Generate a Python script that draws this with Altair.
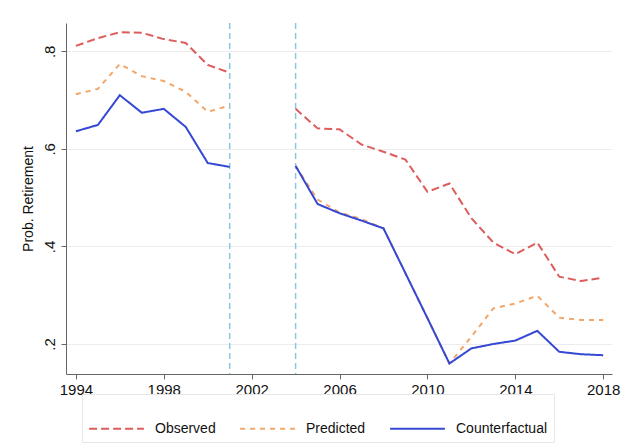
import altair as alt
import pandas as pd

# Retirement probability by year, three series; 2002-2003 are not observed
years = list(range(1994, 2019))
observed = [0.811, 0.827, 0.839, 0.838, 0.825, 0.817, 0.772, 0.756, None, None,
            0.682, 0.642, 0.640, 0.609, 0.594, 0.578, 0.512, 0.529, 0.458, 0.408,
            0.384, 0.408, 0.338, 0.329, 0.336]
predicted = [0.712, 0.723, 0.774, 0.749, 0.739, 0.717, 0.676, 0.689, None, None,
             0.565, 0.496, 0.470, 0.456, 0.437, 0.345, 0.253, 0.160, 0.215, 0.273,
             0.283, 0.299, 0.254, 0.249, 0.249]
counterfactual = [0.636, 0.649, 0.710, 0.674, 0.682, 0.645, 0.571, 0.563, None, None,
                  0.565, 0.487, 0.468, 0.453, 0.437, 0.345, 0.253, 0.160, 0.191, 0.200,
                  0.207, 0.227, 0.184, 0.179, 0.177]
reform_years = [2001, 2004]
x_ticks = [1994, 1998, 2002, 2006, 2010, 2014, 2018]
y_ticks = [0.2, 0.4, 0.6, 0.8]

series_names = ["Observed", "Predicted", "Counterfactual"]
series_colors = ["#dd5c5c", "#f2a66a", "#3548d4"]
series_dash = [[8, 4], [5, 5], [1, 0]]

rows = []
for name, vals in zip(series_names, [observed, predicted, counterfactual]):
    for yr, v in zip(years, vals):
        if v is None:
            continue
        rows.append({"year": yr, "value": v, "series": name,
                     "period": "pre" if yr < 2002 else "post"})
df = pd.DataFrame(rows)
vlines = pd.DataFrame({"year": reform_years})

font = "Liberation Sans"

x_enc = alt.X("year:Q",
              scale=alt.Scale(domain=[1993.55, 2018.4], nice=False, zero=False),
              axis=alt.Axis(values=x_ticks, format="d", title=None, grid=False,
                            labelFontSize=15, labelColor="#111", domainColor="#666",
                            tickColor="#666", tickSize=5, labelPadding=3,
                            labelFlush=False))
y_enc = alt.Y("value:Q",
              scale=alt.Scale(domain=[0.1385, 0.858], nice=False, zero=False),
              axis=alt.Axis(values=y_ticks, title="Prob. Retirement",
                            labelExpr="replace(format(datum.value, '.1f'), '0.', '.')",
                            labelAngle=270, labelFontSize=15, labelColor="#111",
                            titleFontSize=14, titleFontWeight="normal", titleColor="#111",
                            titlePadding=7, grid=True, gridColor="#ececec",
                            domainColor="#666", tickColor="#666", tickSize=5,
                            labelPadding=4))

legend_opts = dict(title=None, orient="none", direction="horizontal",
                   legendX=16, legendY=371, columns=3,
                   symbolType="stroke", symbolSize=3000,
                   symbolStrokeWidth=2, labelFontSize=14,
                   labelColor="#111", labelOffset=10,
                   columnPadding=20, padding=6,
                   strokeColor="#e6e6e6")

lines = alt.Chart(df).mark_line(strokeWidth=2).encode(
    x=x_enc,
    y=y_enc,
    color=alt.Color("series:N",
                    scale=alt.Scale(domain=series_names, range=series_colors),
                    legend=alt.Legend(**legend_opts)),
    strokeDash=alt.StrokeDash("series:N",
                              scale=alt.Scale(domain=series_names, range=series_dash),
                              legend=alt.Legend(**legend_opts)),
    detail="period:N",
    order="year:Q",
)

rules = alt.Chart(vlines).mark_rule(color="#8cc6dc", strokeWidth=1.5,
                                    strokeDash=[6, 4]).encode(x="year:Q")

chart = alt.layer(rules, lines).properties(
    width=546, height=351,
    autosize=alt.AutoSizeParams(type="none"),
    padding={"left": 66, "top": 23, "right": 9, "bottom": 73},
).configure(font=font).configure_view(stroke=None)

chart.save("out.html", embed_options={"renderer": "svg", "actions": False})
